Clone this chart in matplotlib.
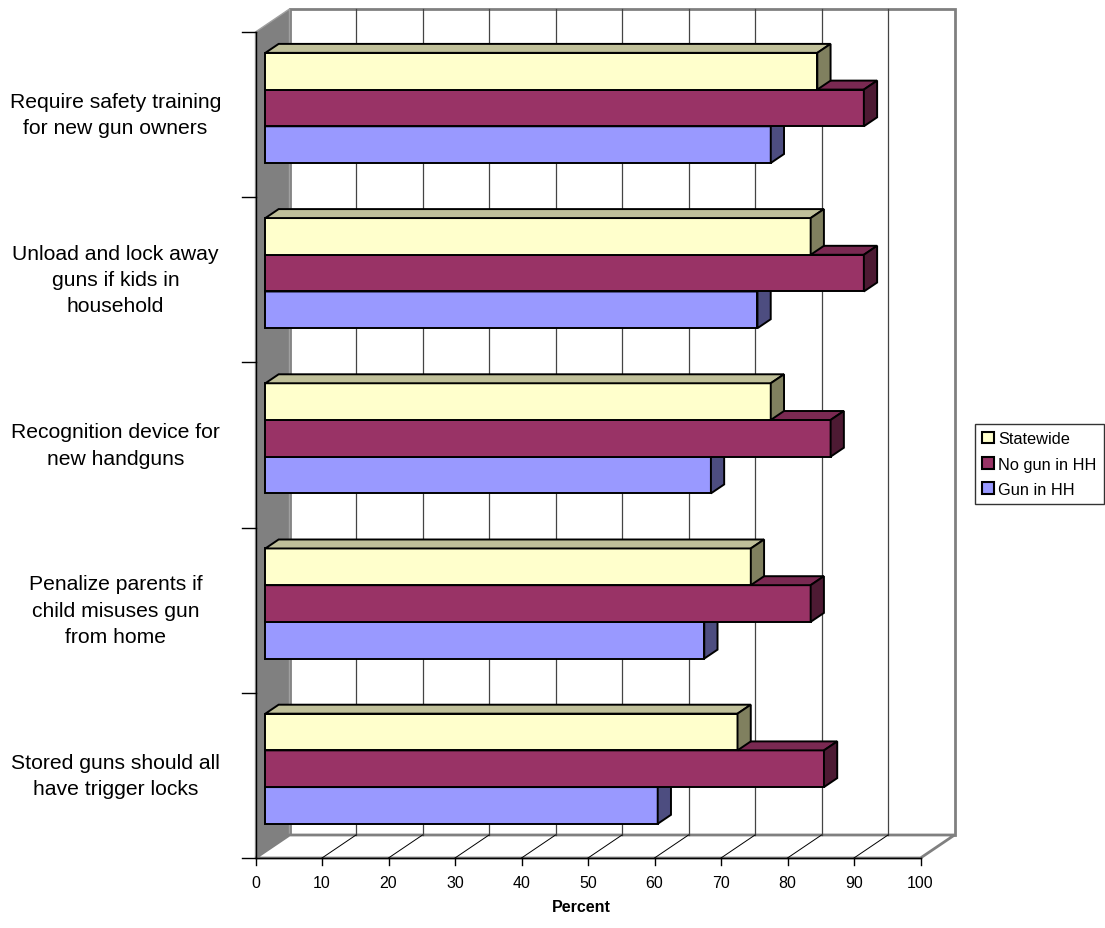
import matplotlib.pyplot as plt
from matplotlib.patches import Polygon, Patch

plt.rcParams['font.family'] = ['Liberation Sans', 'DejaVu Sans']

# survey items, listed top to bottom
items = [
    "Require safety training\nfor new gun owners",
    "Unload and lock away\nguns if kids in\nhousehold",
    "Recognition device for\nnew handguns",
    "Penalize parents if\nchild misuses gun\nfrom home",
    "Stored guns should all\nhave trigger locks",
]
statewide = [83, 82, 76, 73, 71]
no_gun = [90, 90, 85, 82, 84]
gun = [76, 74, 67, 66, 59]

series = ["Statewide", "No gun in HH", "Gun in HH"]
front_col = ["#ffffcc", "#993366", "#9999ff"]
top_col = ["#c0c09a", "#7a2952", "#7a7acc"]
side_col = ["#80805f", "#4d1a33", "#4d4d80"]

# pixel geometry of the frame
W, H = 1105, 929
px_x0, px_x = 255.5, 6.65      # screen px of 0 %, px per percent
px_y0, px_y = 859.0, 165.2     # screen px of floor, px per category row
DX, DY = 34 / px_x, 23 / px_y  # depth vector in data units
ZF, ZB = 0.29, 0.68            # bar front/back depth fractions

fig = plt.figure(figsize=(W / 100, H / 100), dpi=100)
ax = fig.add_axes([0, 0, 1, 1])
ax.set_xlim(-px_x0 / px_x, (W - px_x0) / px_x)
ax.set_ylim(-(H - px_y0) / px_y, px_y0 / px_y)
ax.axis('off')

n = len(items)
xmax = 100


def poly(pts, fc, ec='none', lw=0, z=1):
    ax.add_patch(Polygon(pts, closed=True, facecolor=fc, edgecolor=ec,
                         linewidth=lw, zorder=z, joinstyle='miter'))


# back wall, side wall and floor
poly([(DX, DY), (xmax + DX, DY), (xmax + DX, n + DY), (DX, n + DY)], 'white', '#808080', 2, 1)
poly([(0, 0), (DX, DY), (DX, n + DY), (0, n)], '#808080', '#a0a0a0', 1, 1)
poly([(0, 0), (xmax, 0), (xmax + DX, DY), (DX, DY)], 'white', '#808080', 2, 1)
for v in range(10, xmax, 10):
    ax.plot([v + DX, v + DX], [DY, n + DY], color='#444444', lw=0.9, zorder=1.5)
    ax.plot([v, v + DX], [0, DY], color='black', lw=0.7, zorder=1.5)

# axes lines and ticks
ax.plot([0, xmax], [0, 0], color='black', lw=1, zorder=2)
ax.plot([0, 0], [0, n], color='black', lw=1, zorder=2)
for v in range(0, xmax + 1, 10):
    ax.plot([v, v], [0, -7 / px_y], color='black', lw=1, zorder=2)
    ax.text(v, -25 / px_y, str(v), ha='center', va='center', fontsize=11.5)
for k in range(n + 1):
    ax.plot([0, -14 / px_x], [k, k], color='black', lw=1, zorder=2)
ax.text(xmax / 2 - 1, -49 / px_y, "Percent", ha='center', va='center',
        fontsize=11.5, fontweight='bold')

# category labels
for i, lab in enumerate(items):
    yc = n - i - 0.5
    ax.text(-140 / px_x, yc, lab, ha='center', va='center', fontsize=15.2,
            linespacing=1.48)

# 3-D bars
bw = 1 / 4.5
ox, oy = ZF * DX, ZF * DY
ddx, ddy = (ZB - ZF) * DX, (ZB - ZF) * DY
for i in range(n):
    vals = [statewide[i], no_gun[i], gun[i]]
    top = n - i - 0.75 * bw + oy
    for j in [2, 1, 0]:
        v = vals[j]
        y1 = top - j * bw
        y0 = y1 - bw
        x0, x1 = ox, ox + v
        zz = 3 + i + (3 - j) * 0.1
        poly([(x0, y0), (x1, y0), (x1, y1), (x0, y1)], front_col[j], 'black', 1.4, zz)
        poly([(x0, y1), (x1, y1), (x1 + ddx, y1 + ddy), (x0 + ddx, y1 + ddy)],
             top_col[j], 'black', 1.4, zz)
        poly([(x1, y0), (x1 + ddx, y0 + ddy), (x1 + ddx, y1 + ddy), (x1, y1)],
             side_col[j], 'black', 1.4, zz)

handles = [Patch(facecolor=c, edgecolor='black', linewidth=1.5) for c in front_col]
fig.legend(handles, series, loc='upper left', bbox_to_anchor=(975 / W, 1 - 425 / H),
           fontsize=11.8, frameon=True, fancybox=False, edgecolor='black',
           handlelength=0.7, handleheight=0.7, handletextpad=0.25,
           labelspacing=0.62, borderpad=0.45, borderaxespad=0)

fig.savefig('out.png', dpi=100)
